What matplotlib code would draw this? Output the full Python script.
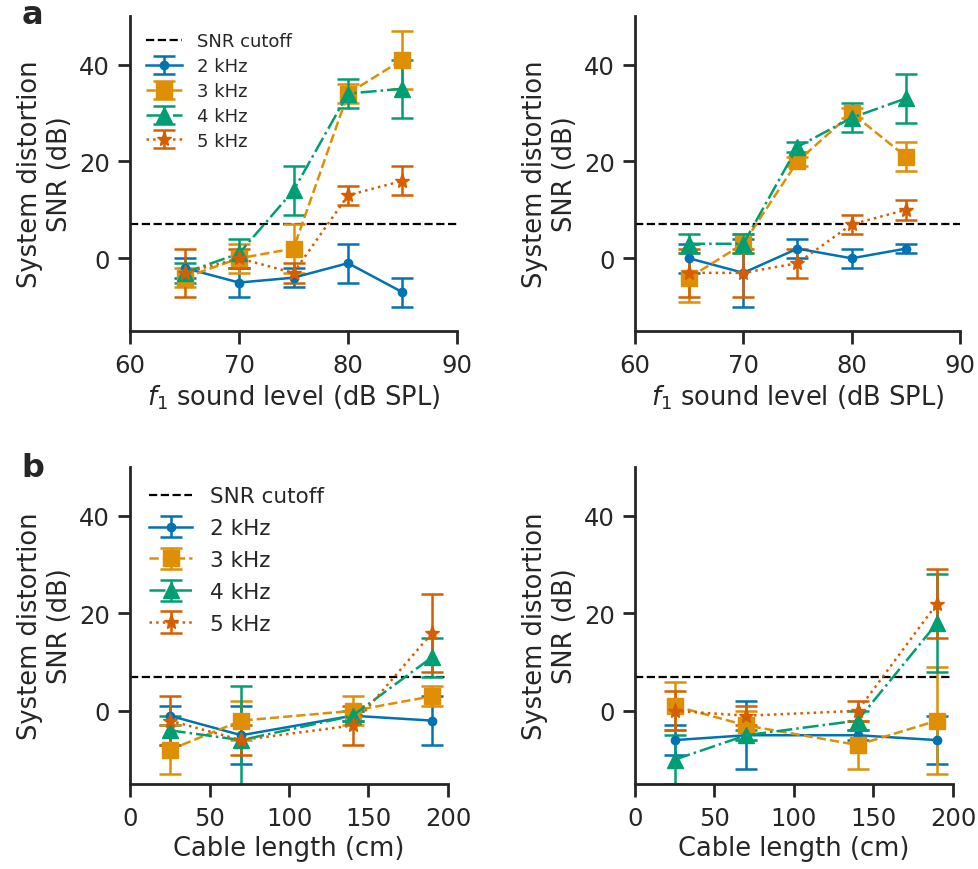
import matplotlib
matplotlib.use("Agg")
from matplotlib import pyplot as plt

# sound level sweep (panel a)
levels = [65, 70, 75, 80, 85]
a_left = {
    "2 kHz": ([-2, -5, -4, -1, -7], [2, 3, 2, 4, 3]),
    "3 kHz": ([-4, 0, 2, 34, 41], [2, 3, 5, 2, 6]),
    "4 kHz": ([-3, 1, 14, 34, 35], [2, 3, 5, 3, 6]),
    "5 kHz": ([-3, 0, -3, 13, 16], [5, 2, 2, 2, 3]),
}
a_right = {
    "2 kHz": ([0, -3, 2, 0, 2], [3, 7, 2, 2, 1]),
    "3 kHz": ([-4, 3, 20, 30, 21], [5, 2, 1, 1, 3]),
    "4 kHz": ([3, 3, 23, 29, 33], [2, 2, 1, 3, 5]),
    "5 kHz": ([-3, -3, -1, 7, 10], [5, 5, 3, 2, 2]),
}

# cable length sweep (panel b)
cables = [25, 70, 140, 190]
b_left = {
    "2 kHz": ([-1, -5, -1, -2], [2, 6, 1, 5]),
    "3 kHz": ([-8, -2, 0, 3], [5, 4, 3, 2]),
    "4 kHz": ([-4, -6, -1, 11], [3, 11, 1, 4]),
    "5 kHz": ([-2, -6, -3, 16], [5, 3, 4, 8]),
}
b_right = {
    "2 kHz": ([-6, -5, -5, -6], [3, 7, 1, 5]),
    "3 kHz": ([1, -3, -7, -2], [5, 3, 5, 11]),
    "4 kHz": ([-10, -5, -2, 18], [5, 1, 2, 10]),
    "5 kHz": ([0, -1, 0, 22], [4, 2, 2, 7]),
}

snr_cutoff = 7

colors = ["#0173b2", "#de8f05", "#029e73", "#d55e00"]
markers = ["o", "s", "^", "*"]
msizes = [6, 11, 11, 11]
styles = ["-", "--", "-.", ":"]

dark = "#262626"
plt.rcParams.update({
    "font.family": "DejaVu Sans",
    "font.size": 18,
    "text.color": dark,
    "axes.labelcolor": dark,
    "axes.labelsize": 18.5,
    "axes.edgecolor": dark,
    "axes.linewidth": 2.0,
    "xtick.color": dark,
    "ytick.color": dark,
    "xtick.major.size": 9,
    "ytick.major.size": 9,
    "xtick.major.width": 2.0,
    "ytick.major.width": 2.0,
    "xtick.major.pad": 6.5,
    "ytick.major.pad": 5.5,
    "xtick.labelsize": 17.5,
    "ytick.labelsize": 17.5,
})


def draw(ax, x, data, xlabel, xlim, xticks, legend_fs=None, spacing=0.5):
    ax.axhline(snr_cutoff, color="k", ls="--", lw=1.6, label="SNR cutoff")
    for i, (name, (y, e)) in enumerate(data.items()):
        ax.errorbar(x, y, yerr=e, color=colors[i], marker=markers[i],
                    ms=msizes[i], ls=styles[i], lw=1.8, elinewidth=1.8,
                    capsize=8, capthick=1.8, label=name)
    ax.set_xlim(xlim)
    ax.set_xticks(xticks)
    ax.set_ylim(-15, 50)
    ax.set_yticks([0, 20, 40])
    ax.set_xlabel(xlabel)
    ax.set_ylabel("System distortion\nSNR (dB)")
    ax.spines["top"].set_visible(False)
    ax.spines["right"].set_visible(False)
    if legend_fs:
        ax.legend(loc="upper left", frameon=False, fontsize=legend_fs,
                  labelspacing=spacing, bbox_to_anchor=(0.0, 1.0))


fig = plt.figure(figsize=(9.79, 8.70), dpi=100, facecolor="w")
ax0 = fig.add_axes([0.1328, 0.6184, 0.334, 0.362])
ax1 = fig.add_axes([0.6486, 0.6184, 0.332, 0.362])
ax2 = fig.add_axes([0.1328, 0.0977, 0.3248, 0.3644])
ax3 = fig.add_axes([0.6486, 0.0977, 0.3248, 0.3644])

lvl_label = "$f_1$ sound level (dB SPL)"
draw(ax0, levels, a_left, lvl_label, (60, 90), [60, 70, 80, 90],
     legend_fs=13, spacing=0.38)
draw(ax1, levels, a_right, lvl_label, (60, 90), [60, 70, 80, 90])
draw(ax2, cables, b_left, "Cable length (cm)", (0, 200),
     [0, 50, 100, 150, 200], legend_fs=15.5, spacing=0.55)
draw(ax3, cables, b_right, "Cable length (cm)", (0, 200),
     [0, 50, 100, 150, 200])

fig.text(0.022, 0.982, "a", fontsize=23, fontweight="bold", va="center")
fig.text(0.022, 0.462, "b", fontsize=23, fontweight="bold", va="center")

fig.savefig("out.png", dpi=100, facecolor="w")
